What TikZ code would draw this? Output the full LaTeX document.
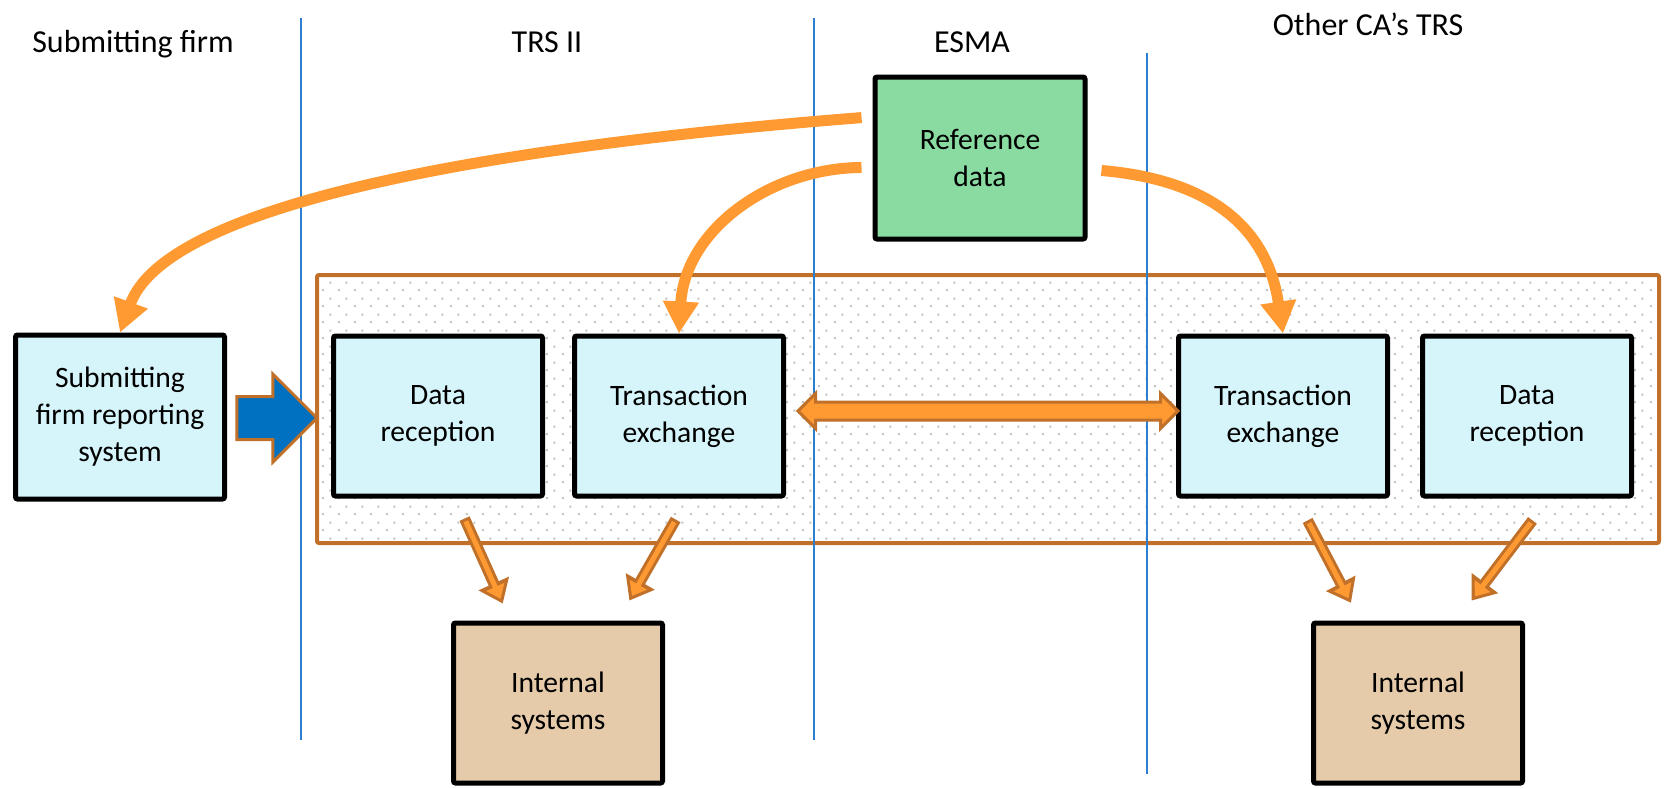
\documentclass[tikz,border=0pt]{standalone}
\usepackage{fontspec}
\setmainfont{Carlito}
\usetikzlibrary{positioning,calc,arrows.meta,shapes.arrows,patterns.meta}

\definecolor{laneblue}{HTML}{2A7FD0}
\definecolor{boxcyan}{HTML}{D5F5FB}
\definecolor{refgreen}{HTML}{8ADBA2}
\definecolor{sysbrown}{HTML}{E6CBAA}
\definecolor{flowor}{HTML}{FF9A33}
\definecolor{rimor}{HTML}{C07028}
\definecolor{feedblue}{HTML}{0070C0}

\tikzdeclarepattern{
	name=sparsedots,
	type=uncolored,
	bounding box={(0pt,0pt) and (8pt,8pt)},
	tile size={(8pt,8pt)},
	code={
		\fill (1pt,1pt) rectangle (2pt,2pt);
		\fill (5pt,5pt) rectangle (6pt,6pt);
	}
}

\begin{document}
\begin{tikzpicture}[x=0.5pt, y=-0.5pt,
		box/.style={draw=black, line width=2.5pt, rounded corners=1pt, minimum width=104.5pt, minimum height=80pt, align=center, font=\fontsize{14.8}{18.5}\selectfont},
		head/.style={font=\fontsize{16}{19}\selectfont, anchor=base},
		lane/.style={draw=laneblue, line width=1pt},
		refflow/.style={draw=flowor, line width=5.5pt, -{Triangle[width=17pt, length=16pt]}},
		feed/.style={draw=rimor, line width=5.5pt, -{Triangle[width=16pt, length=11pt]}, postaction={draw=flowor, line width=2.5pt, -{Triangle[width=9.5pt, length=6.5pt]}, shorten >=2.6pt, shorten <=1.5pt}}]
		\useasboundingbox (0,0) rectangle (1669,788);
		\draw[rimor, line width=2pt, rounded corners=1pt, preaction={fill=white}, pattern=sparsedots, pattern color=black!24] (317,275) rectangle (1659,543);
		\draw[lane] (301,18) -- (301,740);
		\draw[lane] (814,18) -- (814,740);
		\draw[lane] (1147,53) -- (1147,774);
		\draw (133,52) node [head] (hsub) {Submitting firm};
		\draw (547,52) node [head] (htrs) {TRS II};
		\draw (972,52) node [head] (hesma) {ESMA};
		\draw (1368,35) node [head] (hoth) {Other CA’s TRS};
		\draw (120,417) node [box, fill=boxcyan, minimum height=82pt] (sfrs) {Submitting\\firm reporting\\system};
		\draw (438,416) node [box, fill=boxcyan] (drl) {Data\\reception};
		\draw (679,416) node [box, fill=boxcyan] (tel) {Transaction\\exchange};
		\draw (1283,416) node [box, fill=boxcyan] (ter) {Transaction\\exchange};
		\draw (1527,416) node [box, fill=boxcyan] (drr) {Data\\reception};
		\draw (980,158) node [box, fill=refgreen, minimum width=105pt, minimum height=81pt] (ref) {Reference\\data};
		\draw (558,703) node [box, fill=sysbrown] (inl) {Internal\\systems};
		\draw (1418,703) node [box, fill=sysbrown] (inr) {Internal\\systems};
		\draw ($(drl.west)+(-12,2)$) node [single arrow, anchor=tip, fill=feedblue, draw=rimor, line width=1.5pt, inner xsep=0pt, inner ysep=10pt, minimum height=40pt, single arrow head extend=11.25pt] (push) {};
		\draw ($(tel.east)!0.5!(ter.west)+(7,-5)$) node [double arrow, fill=flowor, draw=rimor, line width=1.5pt, inner xsep=0pt, inner ysep=3.75pt, minimum height=190pt, double arrow head extend=4.25pt] (swap) {};
		\draw[feed] ($(drl.-78)!11pt!(inl.120)$) -- ($(inl.120)!9.3pt!(drl.-78)$);
		\draw[feed] ($(tel.-84)!12.1pt!(inl.54)$) -- ($(inl.54)!11.5pt!(tel.-84)$);
		\draw[feed] ($(ter.-81)!12.4pt!(inr.125)$) -- ($(inr.125)!10pt!(ter.-81)$);
		\draw[feed] ($(drr.-75)!13.75pt!(inr.65)$) -- ($(inr.65)!12.5pt!(drr.-75)$);
		\draw[refflow, shorten <=5.5pt] (ref.159) .. controls (512,145) and (168,200) .. (sfrs.north);
		\draw[refflow, shorten <=5.5pt] (ref.185) .. controls (770,168) and (685,230) .. (tel.north);
		\draw[refflow, shorten <=7pt] (ref.-6) .. controls (1190,178) and (1265,213) .. (ter.north);
	\end{tikzpicture}
\end{document}
